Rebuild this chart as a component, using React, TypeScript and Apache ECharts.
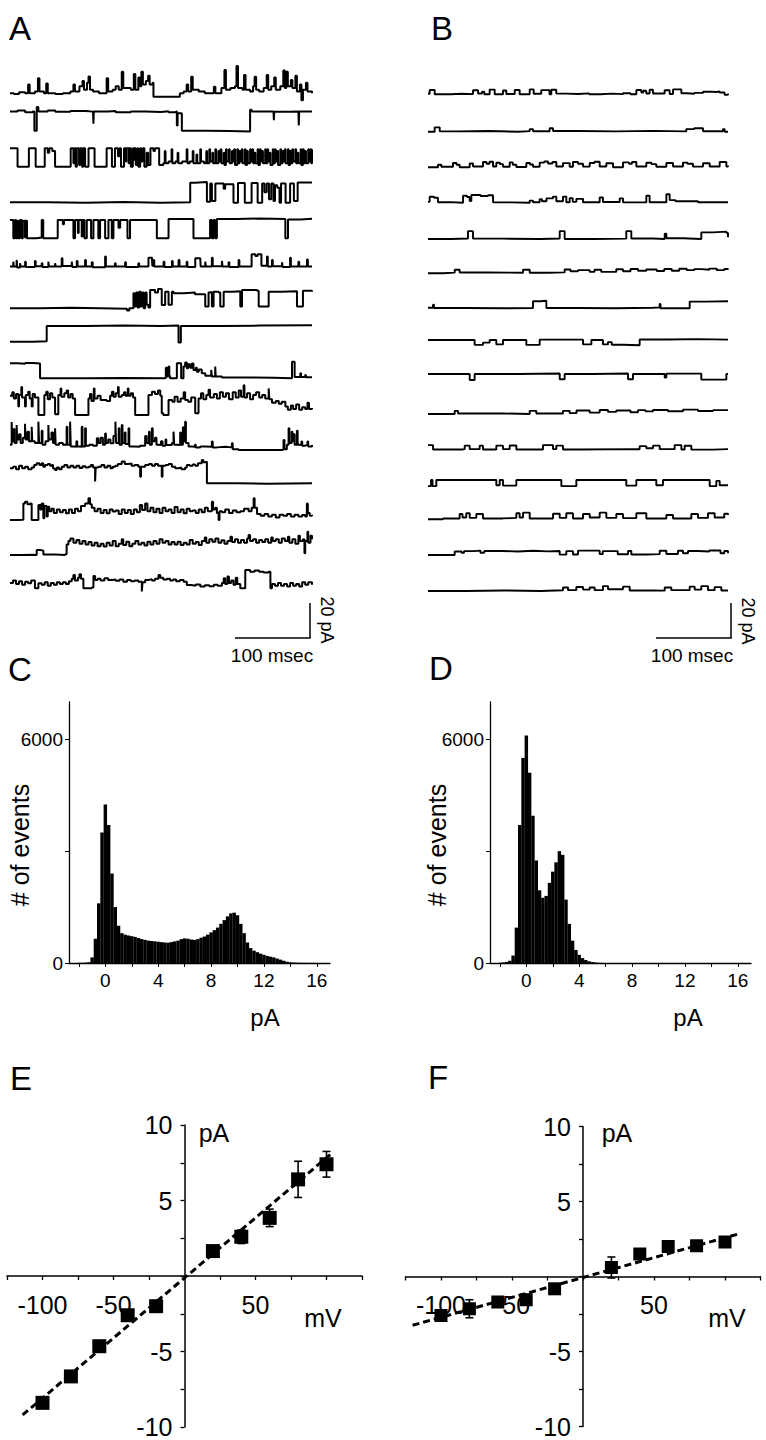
import React, { useEffect, useRef } from "react";
import * as echarts from "echarts";

const FONT = "'Liberation Sans', Arial, Helvetica, sans-serif";

// ---------- Panel A traces: [time ms, current pA] ----------
const A1 = [[0,2],[5,1.5],[12,2.5],[20,2],[24,7],[26,2],[33,3],[37,10.5],[39,3],[45,2],[48,7.5],[50,2],[60,1.5],[70,2],[80,3],[84,7],[86,3],[92,6],[96,9],[98,4],[102,8],[104,11.5],[106,4],[110,3],[118,2],[126,2],[128,10.5],[130,3],[136,4],[140,6],[144,4],[148,14.3],[150,5],[156,5],[160,4],[164,13],[166,4],[170,11],[172,6],[174,14.3],[176,7],[180,9],[183,12],[185,7],[189,8],[190,0],[223,0],[225,2],[230,3],[234,7],[236,3],[240,11.4],[242,4],[250,3],[258,2],[265,2],[270,5.7],[272,2],[280,5],[284,15.2],[286,4],[292,5],[298,6],[300,17.5],[302,5],[308,4],[310,12.4],[312,4],[318,3],[322,6],[324,11.4],[326,4],[330,3],[336,5],[340,12.4],[342,4],[346,6],[350,11],[352,4],[358,6],[362,15],[364,5],[366,14.2],[368,6],[372,9.5],[374,5],[378,12],[380,3],[384,7],[386,-2],[388,4],[392,8],[394,3],[400,2]];
const A2 = [[0,11],[10,11.5],[20,10.5],[30,11],[32.3,0],[35.4,13.5],[37.6,11],[50,11.5],[60,10.8],[80,11.3],[100,10.9],[110,11],[110.5,4],[111,11],[130,11.2],[140,10.5],[160,11],[180,10.7],[200,11.1],[210,10.5],[220,11],[221,3],[222,10],[227.6,0],[260,-0.2],[290,-0.4],[318,12],[320,11],[335,11],[349,10.7],[349.5,6],[350,10.8],[370,11],[382,10.5],[382.5,3],[383,11],[400,10.8]];
const A3 = [[0,10.5],[10,0],[25,10.5],[34,0],[46,10.5],[50,8],[52,10.5],[56,9],[59.7,0],[80.4,10.5],[84,2],[85.5,10.5],[87,0],[88.5,10.5],[91.5,1],[93,10.5],[95.5,0],[97,10.5],[99.5,0],[104,10.5],[112,0],[128,10.5],[135,0],[139,10.5],[143,6],[145,10.5],[147,0],[151,10.5],[153,3],[154,10.5],[157,2],[158,10.5],[160,0],[162.7,10.5],[164,4],[165,10.5],[166.6,1],[168.8,10.5],[170,0],[172.4,10.5],[174,3],[176,10.5],[178,0],[181,8],[183,1],[186,10.5],[190,9],[192,10.5],[197.6,1],[203,2],[205,9],[206,2],[210,3],[214,10],[215,2],[219,3],[222,8],[223,2],[228,3],[234,10],[235,2],[238,3],[242,9],[243,2],[247,7],[248,2],[252,10],[253,3],[257,2],[260,9],[261,2],[264,10],[265,3],[268,8],[269,2],[272,10],[273,2],[276,9],[277,3],[279,10],[280,2],[283,8],[284,1],[286,10],[287,3],[290,10],[291,2],[294,9],[295,3],[297,10],[298,1],[301,10],[302,2],[304,9],[305,3],[307,10],[308,2],[311,10],[312,1],[314,9],[315,2],[318,10],[319,3],[321,10],[322,2],[324,8],[325,2],[328,10],[329,1],[331,10],[332,3],[334,9],[335,2],[338,10],[339,2],[341,10],[342,3],[344,8],[345,1],[348,10],[349,2],[351,10],[352,3],[354,9],[355,1],[358,10],[359,2],[361,9],[362,3],[364,10],[365,2],[368,10],[369,1],[371,9],[372,2],[374,10],[375,3],[378,10],[379,2],[381,8],[382,2],[385,10],[386,1],[388,10],[389,2],[391,9],[392,2],[395,10],[396,3],[398,10],[399,2],[400,10]];
const A4 = [[0,0.3],[50,0],[100,0.4],[150,0],[200,0.2],[238.7,11.4],[245,11.8],[260.8,0.5],[265.2,11],[267.4,1],[272,11],[283,8],[285,10.5],[296,0],[302,11.2],[311,0],[320,11.2],[328,0],[334,11],[337,6],[340,11],[343,2],[346,11],[349,1],[351,10],[354,8.5],[357,0],[359,11],[365,0],[371,11],[376,1],[381,11.5],[400,11.5]];
const A5 = [[0,10.5],[4.4,0],[6.6,10.5],[8,0],[9.7,10],[11,0],[13.3,10.5],[15.5,0],[17,10],[19.9,0.5],[21,10],[22.5,0],[35,0.4],[42,10.5],[44,0],[63.2,10.5],[70,8],[71.5,10.5],[84,0],[86.2,10.5],[90,3],[91,10.5],[95,1],[96,10.5],[98.6,0],[101.7,10.5],[107.4,0],[110.5,10.5],[117,0],[119.3,10.5],[126,0],[130.4,10.5],[134.8,0],[137,10.5],[143.7,6],[145.9,10.5],[155.6,0],[159,10.5],[194.5,0],[210,11],[243,0],[265,10.5],[267.4,0],[269.6,10.5],[271.8,0],[274,11],[300,11.3],[330,11],[364.7,0],[368.2,10.8],[385,11.2],[400,11]];
const A6 = [[0,1],[4.4,3.8],[5,1],[8.8,4.8],[9.5,0.5],[13.3,2.9],[14,1],[20,3.8],[21,0.8],[33,4.2],[34,1.2],[42,2.9],[43,0.7],[50.8,3.8],[51.5,1],[59.7,2.9],[60.5,1],[68.5,5.7],[69.5,1.3],[81.8,3.8],[82.5,0.8],[88.4,4.2],[89.5,1],[99.5,4.8],[100.5,1],[108.3,3.4],[109.5,0.6],[126,6.7],[127,1],[139,2.9],[140,1],[152.5,3.4],[153.5,0.8],[170,2.9],[171,1],[183.4,6.1],[188,6],[188.5,1.5],[190,4.8],[191,1],[203.4,3.8],[204.5,0.7],[214.5,4.2],[215.5,1],[223.3,4.8],[224.5,1],[234,3.8],[235,0.8],[245.4,5.7],[252,5.5],[252.5,1],[258.6,3.8],[259.5,1],[267.4,6.1],[268.5,1.2],[280.7,4.2],[281.5,1],[289.5,3.4],[290.5,0.8],[302.8,4.8],[303.8,1],[320,8],[325,7],[328,8],[333,1.5],[340.4,6.7],[341.4,1],[347,4.8],[348,1.2],[360.3,3.4],[361,0.8],[371,6.1],[372,1],[382,3.8],[383,1],[393.4,5.1],[394.5,1],[400,1]];
const A7 = [[0,0],[40,0.3],[80,0],[120,-0.3],[155,-1.2],[158,0],[163.5,8.6],[165,1],[167,9],[169,0.5],[171,9.5],[173,1],[175,9],[177,0],[179,9],[181,2],[183.4,0.5],[185.6,10.5],[192,9],[196,11],[201,1.9],[205.5,9.5],[210,2],[214.4,9.5],[216.6,8.6],[230,9],[245,8],[258.6,1],[263,9],[265,9.3],[267.4,1],[269.6,9.5],[276.3,9],[278.5,1],[283,9.5],[295,9.8],[305,1],[307.3,10.5],[327.2,10],[329.4,1],[342.6,9.5],[360,9.8],[380.1,1],[388,10],[400,9.5]];
const A8 = [[0,0],[30,0.2],[48.6,9],[100,9.2],[150,9],[200,9.3],[223.2,-0.5],[226.3,9],[280,9.2],[330,9.4],[400,9.2]];
const A9 = [[0,8.6],[10,8.3],[20,8.8],[30,8.4],[39.8,0],[100,0.2],[150,0],[205.5,0.3],[206.4,6],[208,1],[210,6.7],[211,1.5],[212,0],[221,8.6],[226.7,0],[229.8,6.7],[232,9],[234.2,5.7],[236,8],[238.7,6],[241,8.5],[243,4.8],[246,6],[247.5,3.8],[250,5],[254,2.9],[258.6,1.5],[266.5,4.8],[267.4,1],[271.8,6.7],[272.5,1],[280.7,0.5],[320,0.3],[350,0],[373.5,9.5],[377,0.8],[384.5,2.9],[385.5,0.8],[391,1.9],[392,0.6],[400,0.8]];
const A10 = [[0,11],[3,13],[5,9.5],[8,12],[11,4.8],[12,11.4],[15,16],[16,10],[19.9,4.8],[21,11.4],[24,13.3],[26,9.5],[28.7,4.8],[30,12],[33,10],[37.6,0],[45.5,11.4],[48,13.3],[50,9],[53,12.5],[56,10],[59.7,0.5],[64,11.4],[67,15.2],[68,10.5],[72,12.5],[75,14],[77,10],[80,12],[83,9.5],[86.2,0],[103.9,9.5],[106,12],[108,8],[111,15.2],[112,9.5],[116,11],[120,8.6],[128,8],[132.6,11],[135,13.3],[137,10.5],[140,12.5],[143,16],[144,10.5],[148,11.5],[151,13],[153,11],[156,15.2],[157,11],[160,12.5],[163,10],[165.8,0],[183.4,11.4],[188,13.3],[192,12],[196,14],[199,11],[201,1],[203,0],[210,8.6],[215,7.6],[218,10.5],[222,7.6],[226,9.5],[230,13],[232,8.6],[236,7.6],[240,10],[245.3,1],[249.7,9.5],[253,12.5],[256,9],[260,11.4],[263,14.5],[265,10],[270,12],[274,9.5],[278,13],[282,10.5],[286,12.5],[290,9],[295,13],[299,10],[303,14],[306,10.5],[309.4,17],[310.5,10],[314,12.5],[318,9],[322,11.4],[326,13],[330,10],[334,11.5],[338,9.5],[342.6,15.2],[343.5,9],[347,7],[352,8],[356,6.5],[360,7.6],[364.7,4.8],[368,3],[372,5.5],[375,3.5],[379,6],[383,3],[387,4.5],[391,3.5],[394,7],[396,3.5],[400,4]];
const A11 = [[0,3],[2.2,16],[3,5],[5,12],[6,4],[8.8,14.3],[9.5,6],[12,9],[14,4],[17,7],[19.9,15],[20.5,6],[23,10.5],[25,5],[28.7,13.3],[29.5,5],[33,4],[37.6,16.2],[38.5,4],[42,11],[43,3],[47,5],[50.8,14.3],[51.5,6],[55,10],[57,4],[59.7,12.4],[60.5,3],[65,4],[70,3],[75,13.3],[76,3],[79.6,16.2],[80.5,2],[85,1.9],[88,5],[89,2],[92,1.9],[95,13.3],[96,2],[99.5,12.5],[100.5,2.5],[105,3],[110,2.5],[115,6.7],[117,4],[120,7],[123,3],[126,9.5],[127,4],[130,6],[133,3.8],[137,8],[139.6,16.2],[140.5,4],[144,12.4],[145,3],[148,14.3],[149,4],[152,10],[153,3.5],[157,12.4],[158,2],[165,1.9],[172,2.5],[179,8],[181,4],[184,10.5],[185,3],[187.9,12.4],[189,5],[192,7],[194,3],[196.7,2.9],[200,5],[202,2.5],[206,6],[207,2.9],[214.4,4],[216.6,10.5],[217.5,3],[221,2.9],[225.4,10],[226.5,3],[229,13],[230,5],[232,16.2],[233,4],[236.5,2],[240,1.9],[245,3],[246,1.5],[252,2],[258.6,1.9],[267.4,4.8],[268.5,1.5],[274,1.9],[285,1.5],[293.9,3.8],[295,0.5],[302.8,0],[330,0],[360,0.3],[362.3,5.7],[363.5,0.5],[366.7,3],[369,12.4],[370,4],[373,10.5],[374,5],[375.7,9],[377,3],[380,11],[381,3],[382.3,2.9],[386,4.8],[387,2.5],[391,2.9],[394,4.8],[395,2],[400,2.9]];
const A12 = [[0,8.6],[4,9.5],[8,8],[12,10],[16,8.6],[20,9.5],[24,8],[28.7,9],[32,10.5],[35.4,11.4],[39,10.5],[42,11.4],[44,9.5],[46.4,10.5],[50,11],[53,10],[55.3,10.5],[57,8.5],[59.7,7.6],[62,9],[65,8],[68.5,9.5],[72,10.5],[76,9],[80,10],[84,9],[88,10],[92,8.8],[96,9.8],[100,9],[103.9,9.5],[107,10.5],[110,9],[112.7,1],[113.5,9],[117,9.5],[121,10.5],[125,9],[129,10],[133,8.6],[136,9.5],[139.6,10],[143,11],[148,12.4],[152,11],[157,11.4],[161,10],[165,10.5],[170,9.5],[172.4,3.8],[173.5,9.5],[179,10.5],[184,11],[188,10],[192,11],[196,10],[201,3.8],[202,10],[206,10.5],[210,11],[214.4,9.5],[218.8,8.6],[223,9],[227,8],[232,9],[234.2,10.5],[238,10],[242,10.8],[245.3,10],[249,11.4],[254,13.3],[256,12],[258.6,12.4],[260.8,0],[300,-0.2],[340,0],[400,-0.3]];
const A13 = [[0,0],[10,0.2],[17.7,9.5],[19.9,10.5],[23,9],[26.5,9.5],[28.7,0],[37.6,8.6],[40,6],[42,9.5],[44.2,1],[45.5,8],[48.6,2],[50,7.6],[52,5],[55,6.5],[58,4],[62,6],[66,4.5],[70,5.7],[74,3.8],[78,6],[82,4],[86,6.5],[90,5],[94,8],[99.5,9.5],[103.9,12.4],[106,9],[108.3,7],[112,5],[116,6.5],[120,4],[124,5.7],[128,3.8],[132,6],[136,4.8],[140,5.5],[144,3.5],[148,6],[152,4],[156,5.7],[160,3.5],[164,6],[168,4.5],[172,8.6],[175,5.7],[179,9.5],[182,5],[186,7],[190,4.5],[194,6.5],[198,4],[202,7],[206,5],[210,6],[214,4],[218,7.5],[222,4.5],[226,6],[230,3.8],[234,6.5],[238,5],[242,5.5],[246,4],[250,6],[254,4.5],[258,7],[262,5],[267.4,10.5],[269,6],[271.8,7],[274,4],[276.3,0],[277.5,5],[280.7,4.5],[285,6],[290,4],[295,5.5],[300,4.5],[305,5],[310,6.5],[316,5],[320,7],[322.7,12.4],[324,7],[327.2,3.5],[332,2.5],[337,3.5],[342,2],[347,3],[352,1.5],[357,3],[362,2.5],[367,3.5],[372,2],[377,3],[382,2],[387,2.8],[391,2],[393.2,9.5],[394.5,4],[397,2.5],[400,3]];
const A14 = [[0,0],[15,0.2],[30,0],[35.4,2.9],[40,2.5],[44.2,0.3],[60,0],[73,0.5],[75,6],[77.4,8],[80,9.5],[84,7],[88,8.6],[92,6.5],[96,8],[100,6],[104,7.5],[108,5.5],[112,7],[116,5],[120,6.5],[124,4.8],[128,7],[132,5.5],[136,8],[140,5],[144,6.5],[148,9],[150,5.7],[154,7.6],[158,5],[162,6.5],[166,8],[170,6],[174,7],[178,5.5],[182,7.6],[186,6],[190,8],[194,6.5],[198,9],[202,7],[206,8],[210,6],[214,7.5],[218,6],[222,7.6],[226,5.7],[230,7],[234,6],[238,8.6],[242,6.5],[246,7.5],[250,5.7],[254,8],[258,10],[260,7],[264,9],[268,7.6],[272,9.5],[276,7],[280,8.5],[284,6.5],[288,8],[292,10.5],[294,7.5],[298,9],[302,7],[306,8.6],[310,7],[314,9.5],[316,11.4],[318,8],[322,9],[326,7],[330,8.6],[334,7.5],[338,9],[342,7],[346,10],[348,8],[352,9],[356,7],[360,9.5],[364,8],[368,10.5],[370,7],[374,9],[378,6.5],[382,11],[384,8],[388,9],[390,1],[391,8],[394,13.3],[395,7],[398,11],[400,9]];
const A15 = [[0,3],[4,4.5],[8,2.5],[12,4],[16,2],[20,3.8],[24,2.9],[28,4.5],[33,0],[37.6,2.9],[42,2],[46,3.5],[50,1.5],[54,3],[58,2],[62,3.5],[66,2.5],[70,3.5],[74,2.5],[78,4],[81.8,5.5],[84,7.6],[86,4.5],[90,6],[92,8],[94,5.5],[97.2,0],[108.3,0.5],[110.5,7],[112.7,4.8],[116,5.5],[120,4.5],[125,5.7],[130,4.8],[135,5],[140,4.3],[145,5],[150,3.8],[155,4.8],[160,4],[165,4.5],[170,3.8],[174.6,-1.8],[175.5,3.5],[179,4.8],[184,5.2],[188,4.5],[192,5.5],[196.7,7.6],[199,6],[203,5],[208,5.5],[212,4.5],[216,5],[220,4],[225,4.8],[230,3.8],[234.2,1.9],[240,1.5],[246,2.2],[252,1],[258,1.8],[264,1.2],[270,2],[275,1.5],[280.7,3],[283,5.7],[285,2.5],[288,6.7],[290,3],[293,4.5],[296,2],[299,6],[301,2.5],[305,0],[311.6,10.5],[318,9.5],[324,10.2],[330,9.5],[336,9],[342.6,9.5],[344.9,0],[347,2.5],[351,1.5],[355,3],[359,1.5],[363,2.5],[367,1],[371,3],[375,1.5],[379,2.5],[383,1],[387,3.5],[391,2],[395,3.5],[400,2]];

// ---------- Panel B traces ----------
const B1 = [[0,0.3],[2.2,2.5],[8.9,0],[30,0.3],[45,0.1],[60,2.3],[66.7,0.5],[72,1.5],[75,0],[82.2,2.7],[88.9,0],[100,2.2],[104.4,0.2],[115.6,2.5],[122.2,0],[135.6,2.8],[140.9,0.3],[151,2.4],[162,0],[164.4,2.6],[171,0.4],[185,0.2],[200,0.5],[215,0],[230,0.4],[245,0.1],[260,0.6],[270,0],[277.8,2.5],[284.4,1],[287,2],[291,0.5],[295.5,2.6],[300,0.5],[315.5,2.3],[322.2,0.2],[326.7,2.8],[337.8,0.6],[345,0.3],[355,0.8],[366.7,1.5],[375,1.3],[385,1.7],[388.9,1],[395.5,-0.3],[400,0.5]];
const B2 = [[0,0],[8.9,2.5],[15.6,0.2],[40,0.4],[80,0],[120,0.3],[135.6,1.5],[140,0.3],[162.2,2],[166.7,0.4],[200,0.2],[250,0.5],[300,0.2],[344.4,1.5],[355,2],[366.7,0.3],[393.3,1.5],[395.5,0],[400,0.3]];
const B3 = [[0,0],[13.3,1.5],[17.8,0.3],[33.3,2.5],[38,1.5],[42.2,0],[55.6,2.2],[60,0.5],[73.3,3],[78,2],[82,3.2],[86.7,0.5],[91.1,2.6],[96,1.8],[100,0.3],[108.9,2.8],[113,1.5],[117.8,0.2],[131.1,2.5],[136,1.6],[140,0.3],[148.9,2.7],[155,3.3],[160,2.2],[166,3],[171.1,0.5],[180,2.4],[188.9,0.3],[193.3,3],[200,2],[206.7,0.4],[215.6,2.5],[222,3.2],[228.9,0.5],[237.8,2.3],[246.7,0],[260,2.8],[268,2],[272,3],[277.8,0.5],[291.1,2.6],[298,1.8],[304.4,0.3],[317.8,2.5],[326.7,0.5],[340,2.7],[346,2],[353.3,0.4],[366.7,2.3],[375.6,0.5],[388.9,3],[397.8,0.5],[400,1]];
const B4 = [[0,0.5],[2.2,3.4],[8,2.8],[13.3,0.3],[30,0],[46.7,4],[52,3.3],[55.6,1],[57.8,4.4],[70,3.8],[80,4.3],[86.7,0.2],[110,0],[135.6,1.2],[140,0.3],[148.9,2],[152,0.8],[158,2.5],[166.7,3.5],[171.1,0.8],[180,3.5],[184.4,0.3],[188.9,2.6],[193,0.5],[197.8,2.2],[206.7,0.3],[228.9,3],[233.3,0.4],[255.6,2.5],[260,0.2],[291.1,4],[295.5,0.3],[317.8,4.8],[322.2,1.5],[330,0.8],[360,0.3],[400,0]];
const B5 = [[0,0],[30,0.3],[53.3,4.5],[60,0.2],[100,0],[150,0.3],[175.6,4.5],[182.2,0],[220,0.2],[264.4,4.5],[271.1,0.3],[300,0],[315.6,3],[317.8,0.4],[340,0],[364.4,3.8],[380,4.2],[398,3.5],[400,1]];
const B6 = [[0,0],[20,0.4],[35.6,2],[42.2,0.5],[80,0.3],[126.7,2],[135.6,0.3],[160,0.5],[182.2,2.2],[190,1.2],[200,1.8],[215.6,0.8],[222,2],[231,0.8],[251,2.3],[260,1.2],[270,2.5],[280,1.5],[291,2.2],[305,1.3],[315,2.5],[325,1.5],[335,2.6],[345,1.8],[355,2.4],[365,2],[375,2.7],[385,1.8],[395,2.5],[400,2]];
const B7 = [[0,0.3],[6.7,2],[8,0.2],[50,0],[100,0.2],[140,4],[150,4.3],[157.8,0.2],[200,0],[250,0.3],[300,0.5],[308.9,2.5],[310,0],[348.9,3.8],[370,4],[400,3.6]];
const B8 = [[0,0],[62.2,-2.8],[73.3,-1.5],[82.2,0],[91.1,-2.5],[100,0],[131.1,-2.8],[148.9,0.2],[206.7,-2.5],[217.8,0],[233.3,-2.5],[240,-1.2],[245,-2.7],[260,-3],[282.2,0.3],[320,0.5],[360,0.2],[400,0.4]];
const B9 = [[0,0],[55.6,-3.4],[62.2,0],[120,0.3],[175.6,-3],[182.2,0],[220,0.3],[266.7,-3],[273.3,0],[315.6,-2],[317.8,0.2],[364.4,-3.2],[397.8,0],[400,0]];
const B10 = [[0,0],[35.6,1.8],[40,0.3],[100,0],[135.6,1.8],[144.4,0.3],[180,1.8],[188.9,0.5],[198,2],[215.6,0.8],[228.9,2.3],[240,1.2],[251,2],[270,1],[280,2.2],[290,1.5],[300,2.3],[320,1.6],[340,2.5],[360,1.7],[380,2.2],[400,2]];
const B11 = [[0,2.8],[6.7,0.3],[45,0.5],[48.9,2.5],[55.6,0.5],[68.9,2.5],[73.3,0.3],[91.1,2.5],[100,0.5],[108.9,2.6],[117.8,0.3],[153.3,2.8],[166.7,0.5],[171.1,2.5],[180,0.3],[200,0.5],[280,0.4],[282.2,2.2],[291.1,1],[300,2.5],[308.9,0.5],[328.9,2.8],[337.8,0.3],[342.2,2.4],[351.1,0.2],[380,0.5],[400,0.3]];
const B12 = [[0,-3.5],[4,0],[6,-3.5],[11.1,0],[91.1,-3],[95.6,0],[100,-3.2],[117.8,0],[177.8,-3.5],[197.8,0],[264.4,-3.2],[277.8,0],[304.4,-3],[313.3,0],[375.6,-3.5],[384.4,-0.5],[388.9,-3],[400,-3]];
const B13 = [[0,0],[20,0.5],[42.2,3],[46,1],[51,3.5],[55.6,0.8],[64.4,3],[73.3,0.5],[100,0.8],[117.8,3.5],[122.2,1],[126.7,3.8],[135.6,0.5],[166.7,3.2],[175.6,0.8],[184.4,3.5],[193.3,0.5],[206.7,3],[215.6,1],[228.9,3.8],[237.8,0.8],[251.1,3],[260,0.7],[277.8,3.5],[291.1,0.5],[317.8,2.5],[326.7,0.5],[351.1,3],[360,0.8],[373.3,3.5],[382.2,1],[395,3.2],[400,2.5]];
const B14 = [[0,0],[35.6,2],[45,1.2],[48,2.2],[60,2.5],[70,1.3],[75,2.3],[100,2],[120,2.4],[140,2.1],[160,2.3],[175.6,0.2],[184.4,2.2],[193.3,0.3],[200,2.5],[228.9,0.5],[233,2.2],[253,0.4],[266.7,2.3],[271.1,0.3],[291.1,0.5],[308.9,2.4],[317.8,0.6],[333.3,2.4],[340,1],[346.7,2.3],[360,2],[375,2.6],[390,1],[395,2.3],[400,1]];
const B15 = [[0,0],[50,0.3],[100,0],[150,0.4],[180,2],[186.7,0.5],[197.8,2.3],[206.7,0.8],[215.6,2],[222.2,0.5],[233.3,2.8],[240,1],[260,2.5],[268.9,0.3],[300,0.2],[315.6,2],[324.4,0.5],[348.9,2.5],[355.6,0.8],[364.4,2.8],[373.3,0.5],[382.2,2.2],[391.1,0.3],[400,0.5]];

const A_TRACES = [A1, A2, A3, A4, A5, A6, A7, A8, A9, A10, A11, A12, A13, A14, A15];
const B_TRACES = [B1, B2, B3, B4, B5, B6, B7, B8, B9, B10, B11, B12, B13, B14, B15];

// ---------- Histograms (bin centres, pA) ----------
const HIST_BINS = [-2,-1.75,-1.5,-1.25,-1,-0.75,-0.5,-0.25,0,0.25,0.5,0.75,1,1.25,1.5,1.75,2,2.25,2.5,2.75,3,3.25,3.5,3.75,4,4.25,4.5,4.75,5,5.25,5.5,5.75,6,6.25,6.5,6.75,7,7.25,7.5,7.75,8,8.25,8.5,8.75,9,9.25,9.5,9.75,10,10.25,10.5,10.75,11,11.25,11.5,11.75,12,12.25,12.5,12.75,13,13.25,13.5,13.75,14,14.25,14.5,14.75,15,15.25,15.5,15.75,16];
const HIST_C = [5,5,10,20,150,650,1600,3500,4250,3700,2400,1500,1000,800,760,740,720,700,670,640,620,600,590,580,570,560,550,545,560,580,600,640,660,650,630,620,640,680,710,760,820,880,950,1050,1150,1250,1330,1350,1280,1050,800,550,400,330,290,250,220,190,170,150,120,90,60,35,20,12,8,6,5,4,3,3,2];
const HIST_D = [5,15,30,60,200,950,3700,5500,6100,5100,3950,2750,1950,1750,1800,2150,2450,2700,3000,2900,1700,1050,600,350,220,130,80,45,25,12,5,2,0,0,0,0,0,0,0,0,0,0,0,0,0,0,0,0,0,0,0,0,0,0,0,0,0,0,0,0,0,0,0,0,0,0,0,0,0,0,0,0,0];
const HIST_X_LABELS = [0, 4, 8, 12, 16];
const HIST_X_TICKS = [-2, 0, 2, 4, 6, 8, 10, 12, 14, 16];
const HIST_Y_LABELS = [0, 6000];
const HIST_Y_TICKS = [0, 3000, 6000];

// ---------- I-V ----------
const IV_MV = [-100, -80, -60, -40, -20, 20, 40, 60, 80, 100];
const E_PA = [-8.4, -6.65, -4.65, -2.6, -2.0, 1.65, 2.6, 3.85, 6.4, 7.4];
const E_ERR = [0, 0, 0, 0, 0, 0, 0.45, 0.58, 1.2, 0.85];
const E_FIT = [[-114, -9.2], [104, 8.15]];
const F_PA = [-2.6, -2.15, -1.7, -1.55, -0.82, 0.6, 1.5, 2.0, 2.05, 2.3];
const F_ERR = [0, 0.6, 0, 0.35, 0, 0.7, 0, 0, 0, 0];
const F_FIT = [[-120, -3.25], [110, 2.85]];
const IV_X_LABELS = [-100, -50, 50];
const IV_Y_LABELS = [-10, -5, 5, 10];

// ---------- layout ----------
const A_ROW_BASE = [96.7, 130.7, 166.7, 202.7, 238.3, 268.3, 308.3, 341.7, 378.3, 415, 450, 483.3, 520, 555, 588.3];
const B_ROW_BASE = [94.3, 131.7, 167.3, 202.7, 239, 273.3, 308.3, 340, 374, 414, 450, 480, 519.3, 555, 591];

function buildOption() {
  const grid: any[] = [];
  const xAxis: any[] = [];
  const yAxis: any[] = [];
  const series: any[] = [];

  const addTrace = (left: number, width: number, base: number, data: number[][], lw: number) => {
    const i = grid.length;
    grid.push({ left, width, top: base - 35, height: 43.75 });
    xAxis.push({ gridIndex: i, type: "value", min: 0, max: 400, show: false });
    yAxis.push({ gridIndex: i, type: "value", min: -5, max: 20, show: false });
    series.push({
      type: "line", xAxisIndex: i, yAxisIndex: i, data, step: "end", symbol: "none",
      clip: false, silent: true, lineStyle: { color: "#000", width: lw },
    });
  };
  A_TRACES.forEach((d, k) => addTrace(10, 302, A_ROW_BASE[k], d, 2));
  B_TRACES.forEach((d, k) => addTrace(428, 300, B_ROW_BASE[k], d, 1.9));

  const fmt = (v: number) => String(v);

  const addHist = (left: number, values: number[]) => {
    const i = grid.length;
    grid.push({ left, top: 702, width: 261, height: 261 });
    xAxis.push({
      gridIndex: i, type: "value", min: -2.75, max: 17, splitLine: { show: false },
      axisLine: { onZero: false, lineStyle: { color: "#000", width: 1.3 } },
      axisTick: { customValues: HIST_X_TICKS, length: 4, lineStyle: { color: "#000" } },
      axisLabel: { customValues: HIST_X_LABELS, formatter: fmt, fontSize: 19, fontFamily: FONT, color: "#000", margin: 8 },
    });
    yAxis.push({
      gridIndex: i, type: "value", min: 0, max: 7000, splitLine: { show: false },
      axisLine: { show: true, onZero: false, lineStyle: { color: "#000", width: 1.3 } },
      axisTick: { show: true, customValues: HIST_Y_TICKS, length: 4, lineStyle: { color: "#000" } },
      axisLabel: { customValues: HIST_Y_LABELS, formatter: fmt, fontSize: 19, fontFamily: FONT, color: "#000", margin: 6 },
    });
    series.push({
      type: "bar", xAxisIndex: i, yAxisIndex: i, barWidth: 3.45, silent: true,
      itemStyle: { color: "#000" },
      data: HIST_BINS.map((b, k) => [b, values[k]]),
    });
  };
  addHist(69, HIST_C);
  addHist(490, HIST_D);

  const addIV = (left: number, top: number, height: number, ys: number[], errs: number[], fit: number[][], size: number) => {
    const i = grid.length;
    const width = 355;
    grid.push({ left, top, width, height });
    xAxis.push({
      gridIndex: i, type: "value", min: -125, max: 125, interval: 25, position: "bottom",
      offset: -height / 2, splitLine: { show: false },
      axisLine: { onZero: false, lineStyle: { color: "#000", width: 1.5 } },
      axisTick: { length: 4, lineStyle: { color: "#000", width: 1.3 } },
      axisLabel: { customValues: IV_X_LABELS, formatter: fmt, fontSize: 25, fontFamily: FONT, color: "#000", margin: 16 },
    });
    yAxis.push({
      gridIndex: i, type: "value", min: -10, max: 10, interval: 2.5, position: "left",
      offset: -width / 2, splitLine: { show: false },
      axisLine: { show: true, onZero: false, lineStyle: { color: "#000", width: 1.5 } },
      axisTick: { show: true, length: 4, lineStyle: { color: "#000", width: 1.3 } },
      axisLabel: { customValues: IV_Y_LABELS, formatter: fmt, fontSize: 25, fontFamily: FONT, color: "#000", margin: 12 },
    });
    series.push({
      type: "line", xAxisIndex: i, yAxisIndex: i, data: fit, symbol: "none", silent: true, z: 3,
      lineStyle: { color: "#000", width: 3, type: [7, 4] },
    });
    series.push({
      type: "custom", xAxisIndex: i, yAxisIndex: i, silent: true, z: 4,
      data: IV_MV.map((v, k) => [v, ys[k], errs[k]]),
      renderItem: (params: any, api: any) => {
        const x = api.value(0), y = api.value(1), e = api.value(2);
        if (!e) return null;
        const t = api.coord([x, y + e]);
        const b = api.coord([x, y - e]);
        const st = { stroke: "#000", lineWidth: 1.6 };
        return {
          type: "group",
          children: [
            { type: "line", shape: { x1: t[0], y1: t[1], x2: b[0], y2: b[1] }, style: st },
            { type: "line", shape: { x1: t[0] - 4, y1: t[1], x2: t[0] + 4, y2: t[1] }, style: st },
            { type: "line", shape: { x1: b[0] - 4, y1: b[1], x2: b[0] + 4, y2: b[1] }, style: st },
          ],
        };
      },
    });
    series.push({
      type: "scatter", xAxisIndex: i, yAxisIndex: i, symbol: "rect", symbolSize: size, silent: true, z: 5,
      itemStyle: { color: "#000", opacity: 1 },
      data: IV_MV.map((v, k) => [v, ys[k]]),
    });
  };
  addIV(7, 1125, 302, E_PA, E_ERR, E_FIT, 14);
  addIV(405.5, 1126.5, 300, F_PA, F_ERR, F_FIT, 13);

  const txt = (text: string, x: number, y: number, size: number, rotation = 0, align = "center") => ({
    type: "text", x, y, rotation, silent: true,
    style: {
      text, fill: "#000", font: `${size}px ${FONT}`, fontSize: size, fontFamily: FONT,
      textAlign: align, align, textVerticalAlign: "middle", verticalAlign: "middle",
    },
  });
  const ln = (x1: number, y1: number, x2: number, y2: number) => ({
    type: "line", silent: true, shape: { x1, y1, x2, y2 }, style: { stroke: "#000", lineWidth: 1.5 },
  });

  const graphic = [
    txt("A", 20, 28, 33), txt("B", 442, 28, 33),
    txt("C", 20, 669, 33), txt("D", 441, 668, 33),
    txt("E", 21, 1078, 33), txt("F", 438, 1077, 33),
    ln(310, 603, 310, 638), ln(235, 638, 310.75, 638),
    txt("20 pA", 327, 620, 18, -Math.PI / 2), txt("100 msec", 272, 655, 19),
    ln(731, 603, 731, 638), ln(656, 638, 731.75, 638),
    txt("20 pA", 748, 621, 18, -Math.PI / 2), txt("100 msec", 692, 655, 19),
    txt("# of events", 20, 845, 25, Math.PI / 2), txt("# of events", 437, 845, 25, Math.PI / 2),
    txt("pA", 265, 1017, 24), txt("pA", 688, 1017, 24),
    txt("pA", 214, 1133, 25), txt("mV", 323, 1318, 25),
    txt("pA", 617, 1133, 25), txt("mV", 727, 1318, 25),
  ];

  return {
    animation: false,
    backgroundColor: "#fff",
    textStyle: { fontFamily: FONT },
    grid, xAxis, yAxis, series, graphic,
  };
}

export default function App() {
  const ref = useRef<HTMLDivElement>(null);
  useEffect(() => {
    if (!ref.current) return;
    const chart = echarts.init(ref.current, null, { renderer: "svg" });
    chart.setOption(buildOption() as any);
    return () => chart.dispose();
  }, []);
  return (
    <div
      ref={ref}
      style={{ position: "absolute", left: 0, top: 0, width: 766, height: 1440, background: "#fff" }}
    />
  );
}
